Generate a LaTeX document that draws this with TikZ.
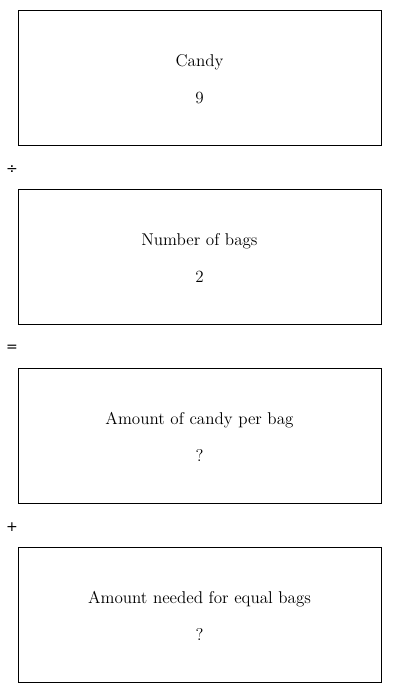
\documentclass[tikz,border=0pt]{standalone}
\usepackage{fontspec}
\usepackage{tikz}
\usetikzlibrary{positioning}
\newfontfamily\opfont{DejaVu Sans}
\definecolor{rand}{HTML}{000000}
\tikzset{
  feld/.style={draw=rand,line width=0.75pt,minimum width=363*0.75pt,minimum height=135*0.75pt,inner sep=0pt},
  inhalt/.style={align=center,font=\fontsize{12.8}{15.2}\selectfont,yshift=-1.1pt},
  zeichen/.style={font=\opfont\fontsize{10.5}{12}\selectfont,inner sep=0pt},
}

\begin{document}
\begin{tikzpicture}[x=0.75pt,y=-0.75pt]
  \useasboundingbox (0,0) rectangle (400,693);
  \node[feld] (candy) at (199.5,77.5) {};
  \node[inhalt] at (candy) {Candy\\[12.5pt]9};
  \node[feld] (bags) at (199.5,256.5) {};
  \node[inhalt] at (bags) {Number of bags\\[12.5pt]2};
  \node[feld] (perbag) at (199.5,435.5) {};
  \node[inhalt] at (perbag) {Amount of candy per bag\\[12.5pt]?};
  \node[feld] (needed) at (199.5,614.5) {};
  \node[inhalt] at (needed) {Amount needed for equal bags\\[12.5pt]?};
  \node[zeichen] (div) at (12,169.5) {÷};
  \node[zeichen] (gleich) at (12,348.5) {=};
  \node[zeichen] (plus) at (12,527.5) {+};
\end{tikzpicture}
\end{document}
